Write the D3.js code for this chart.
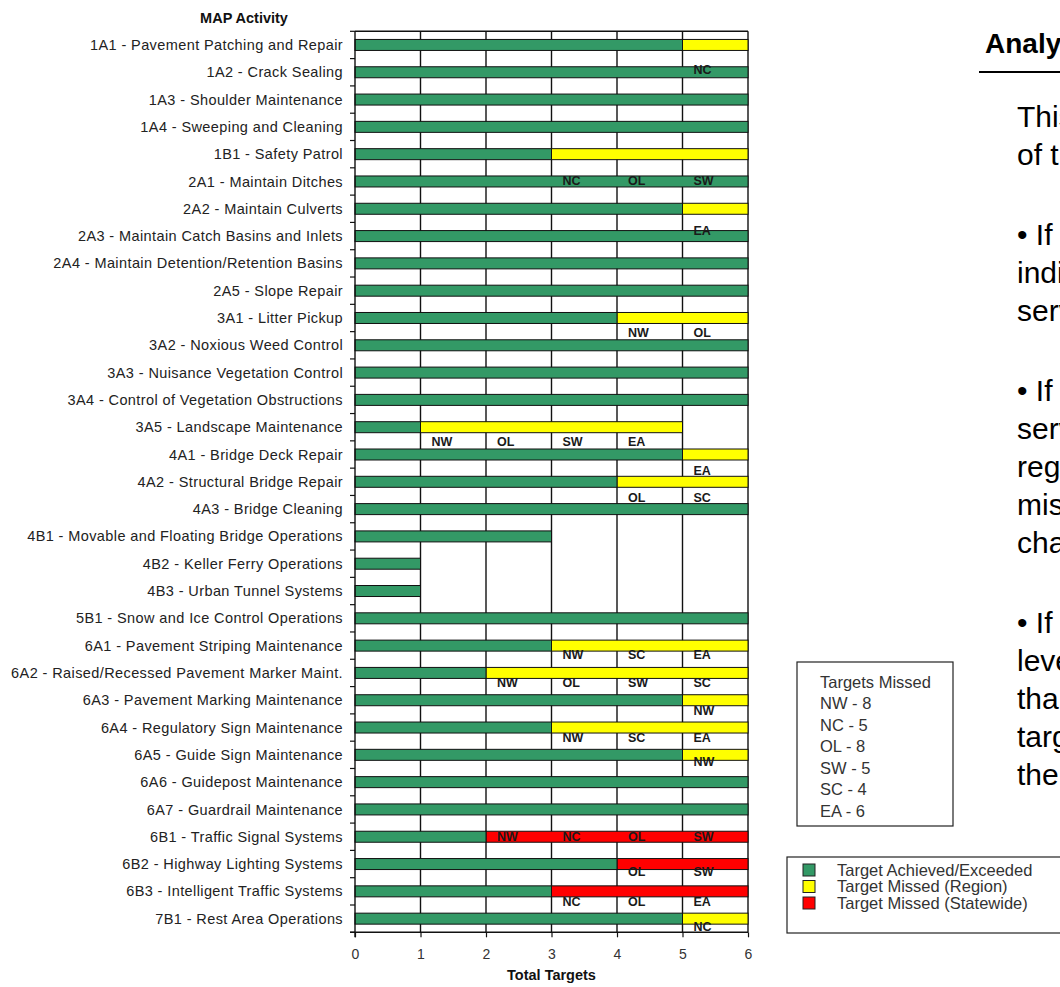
<!DOCTYPE html>
<html>
<head>
<meta charset="utf-8">
<script src="https://cdn.jsdelivr.net/npm/d3@7/dist/d3.min.js"></script>
<style>
  html, body { margin: 0; padding: 0; background: #fff; overflow: hidden; }
  svg { display: block; font-family: "Liberation Sans", Arial, sans-serif; }
</style>
</head>
<body>
<svg id="chart" width="1060" height="987"></svg>
<script>
// MAP activities, top to bottom
const codes = ['1A1', '1A2', '1A3', '1A4', '1B1', '2A1', '2A2', '2A3', '2A4', '2A5',
  '3A1', '3A2', '3A3', '3A4', '3A5', '4A1', '4A2', '4A3', '4B1', '4B2', '4B3',
  '5B1', '6A1', '6A2', '6A3', '6A4', '6A5', '6A6', '6A7', '6B1', '6B2', '6B3', '7B1'];

const activities = ['Pavement Patching and Repair', 'Crack Sealing', 'Shoulder Maintenance',
  'Sweeping and Cleaning', 'Safety Patrol', 'Maintain Ditches', 'Maintain Culverts',
  'Maintain Catch Basins and Inlets', 'Maintain Detention/Retention Basins', 'Slope Repair',
  'Litter Pickup', 'Noxious Weed Control', 'Nuisance Vegetation Control',
  'Control of Vegetation Obstructions', 'Landscape Maintenance', 'Bridge Deck Repair',
  'Structural Bridge Repair', 'Bridge Cleaning', 'Movable and Floating Bridge Operations',
  'Keller Ferry Operations', 'Urban Tunnel Systems', 'Snow and Ice Control Operations',
  'Pavement Striping Maintenance', 'Raised/Recessed Pavement Marker Maint.',
  'Pavement Marking Maintenance', 'Regulatory Sign Maintenance', 'Guide Sign Maintenance',
  'Guidepost Maintenance', 'Guardrail Maintenance', 'Traffic Signal Systems',
  'Highway Lighting Systems', 'Intelligent Traffic Systems', 'Rest Area Operations'];

// total targets per activity and how many were achieved
const totals   = [6, 6, 6, 6, 6, 6, 6, 6, 6, 6, 6, 6, 6, 6, 5, 6, 6, 6, 3, 1, 1, 6, 6, 6, 6, 6, 6, 6, 6, 6, 6, 6, 6];
const achieved = [5, 6, 6, 6, 3, 6, 5, 6, 6, 6, 4, 6, 6, 6, 1, 5, 4, 6, 3, 1, 1, 6, 3, 2, 5, 3, 5, 6, 6, 2, 4, 3, 5];

// regions that missed the target
const missedBy = [['NC'], [], [], [], ['NC', 'OL', 'SW'], [], ['EA'], [], [], [],
  ['NW', 'OL'], [], [], [], ['NW', 'OL', 'SW', 'EA'], ['EA'], ['OL', 'SC'], [], [], [], [],
  [], ['NW', 'SC', 'EA'], ['NW', 'OL', 'SW', 'SC'], ['NW'], ['NW', 'SC', 'EA'], ['NW'], [], [],
  ['NW', 'NC', 'OL', 'SW'], ['OL', 'SW'], ['NC', 'OL', 'EA'], ['NC']];

// activities where the miss is statewide
const statewide = ['6B1', '6B2', '6B3'];

const xTicks = [0, 1, 2, 3, 4, 5, 6];

const regions = ['NW', 'NC', 'OL', 'SW', 'SC', 'EA'];
const regionMissed = [8, 5, 8, 5, 4, 6];

const legendLabels = ['Target Achieved/Exceeded', 'Target Missed (Region)', 'Target Missed (Statewide)'];

const analysisTitle = 'Analysis';
const analysisParas = [
  ['This chart shows the results', 'of the maintenance targets.'],
  ['\u2022  If a bar is entirely green, it', 'indicates that all regions met the', 'service level target.'],
  ['\u2022  If a bar is partly yellow, the', 'service level target was missed', 'regionally; the regions that', 'missed it are listed on the', 'chart.'],
  ['\u2022  If a bar is partly red, the', 'level of service statewide is lower', 'than the target and the missed', 'target is listed by region on', 'the chart.']
];

// ---- layout ----
const colors = { ok: '#339966', region: '#ffff00', state: '#ff0000' };
const plot = { left: 355, right: 748, top: 31.3, bottom: 932.3 };
const barH = 11;
// how far each row's region codes sit below its bar (as pasted in the source)
const labelDrop = { '1A1': 25, '1B1': 26, '2A2': 22, '3A1': 15, '3A5': 14, '4A1': 16, '4A2': 16,
  '6A1': 9, '6A2': 10, '6A3': 10, '6A4': 10, '6A5': 7, '6B1': 0, '6B2': 8, '6B3': 10, '7B1': 8 };

const rows = codes.map((c, i) => ({
  code: c,
  label: c + ' - ' + activities[i],
  total: totals[i],
  ok: achieved[i],
  missed: missedBy[i],
  type: statewide.includes(c) ? 'state' : 'region'
}));

const svg = d3.select('#chart');

const x = d3.scaleLinear().domain([0, 6]).range([plot.left, plot.right]);
const y = d3.scaleBand().domain(codes).range([plot.top, plot.bottom]).padding(0);
const mid = c => y(c) + y.bandwidth() / 2;

// grid
const grid = svg.append('g');
grid.selectAll('line.v')
  .data(xTicks.slice(1))
  .join('line')
  .attr('x1', d => x(d)).attr('x2', d => x(d))
  .attr('y1', plot.top).attr('y2', plot.bottom)
  .attr('stroke', '#111').attr('stroke-width', 1.4);
grid.append('line')
  .attr('x1', plot.left).attr('x2', plot.right)
  .attr('y1', plot.top).attr('y2', plot.top)
  .attr('stroke', '#111').attr('stroke-width', 1.4);

// bars
const bars = svg.append('g');
bars.selectAll('rect.miss')
  .data(rows.filter(r => r.total > r.ok))
  .join('rect')
  .attr('x', d => x(d.ok))
  .attr('width', d => x(d.total) - x(d.ok))
  .attr('y', d => mid(d.code) - barH / 2)
  .attr('height', barH)
  .attr('fill', d => colors[d.type])
  .attr('stroke', '#111').attr('stroke-width', 1);
bars.selectAll('rect.ok')
  .data(rows)
  .join('rect')
  .attr('x', x(0))
  .attr('width', d => x(d.ok) - x(0))
  .attr('y', d => mid(d.code) - barH / 2)
  .attr('height', barH)
  .attr('fill', colors.ok)
  .attr('stroke', '#111').attr('stroke-width', 1);

// region codes next to the missed segments
const codeLabels = rows.flatMap(r => r.missed.map((m, k) => ({ code: r.code, text: m, at: r.ok + k })));
svg.append('g').selectAll('text')
  .data(codeLabels)
  .join('text')
  .attr('x', d => x(d.at) + 11)
  .attr('y', d => mid(d.code) + (labelDrop[d.code] ?? 12))
  .attr('dy', '0.35em')
  .attr('font-size', 12.5)
  .attr('font-weight', 'bold')
  .attr('fill', '#1a1a1a')
  .text(d => d.text);

// y axis
const yAxis = svg.append('g');
yAxis.append('line')
  .attr('x1', plot.left).attr('x2', plot.left)
  .attr('y1', plot.top).attr('y2', plot.bottom + 5)
  .attr('stroke', '#111').attr('stroke-width', 1.4);
yAxis.selectAll('line.tick')
  .data(codes.concat(['end']))
  .join('line')
  .attr('x1', plot.left - 5).attr('x2', plot.left)
  .attr('y1', (d, i) => plot.top + i * y.bandwidth())
  .attr('y2', (d, i) => plot.top + i * y.bandwidth())
  .attr('stroke', '#111').attr('stroke-width', 1.2);
yAxis.selectAll('text')
  .data(rows)
  .join('text')
  .attr('x', 343)
  .attr('y', d => mid(d.code))
  .attr('dy', '0.35em')
  .attr('text-anchor', 'end')
  .attr('font-size', 14.5)
  .attr('letter-spacing', 0.4)
  .attr('fill', '#222')
  .text(d => d.label);

svg.append('text')
  .attr('x', 244).attr('y', 18).attr('dy', '0.35em')
  .attr('text-anchor', 'middle')
  .attr('font-size', 14.5).attr('font-weight', 'bold').attr('fill', '#111')
  .text('MAP Activity');

// x axis
const xAxis = svg.append('g')
  .attr('transform', `translate(0,${plot.bottom})`)
  .call(d3.axisBottom(x).tickValues(xTicks).tickFormat(d3.format('d'))
    .tickSize(5).tickSizeOuter(0).tickPadding(12));
xAxis.select('.domain').attr('stroke', '#111').attr('stroke-width', 1.4)
  .attr('d', `M${plot.left - 5},0H${plot.right}`);
xAxis.selectAll('.tick line').attr('stroke', '#111').attr('stroke-width', 1.2);
xAxis.selectAll('.tick text')
  .attr('font-family', '"Liberation Sans", Arial, sans-serif')
  .attr('font-size', 14).attr('fill', '#333');

svg.append('text')
  .attr('x', (plot.left + plot.right) / 2).attr('y', 975).attr('dy', '0.35em')
  .attr('text-anchor', 'middle')
  .attr('font-size', 14.5).attr('font-weight', 'bold').attr('fill', '#111')
  .text('Total Targets');

// targets missed box
const tm = svg.append('g');
tm.append('rect')
  .attr('x', 797).attr('y', 662).attr('width', 156).attr('height', 164)
  .attr('fill', '#fff').attr('stroke', '#222').attr('stroke-width', 1.2);
tm.selectAll('text')
  .data(['Targets Missed'].concat(regions.map((r, i) => r + ' - ' + regionMissed[i])))
  .join('text')
  .attr('x', 820)
  .attr('y', (d, i) => 682 + i * 21.5)
  .attr('dy', '0.35em')
  .attr('font-size', 16.5).attr('fill', '#333')
  .text(d => d);

// colour legend
const lg = svg.append('g');
lg.append('rect')
  .attr('x', 787).attr('y', 857).attr('width', 290).attr('height', 76)
  .attr('fill', '#fff').attr('stroke', '#222').attr('stroke-width', 1.2);
const legendColors = [colors.ok, colors.region, colors.state];
const li = lg.selectAll('g.item')
  .data(legendLabels)
  .join('g')
  .attr('transform', (d, i) => `translate(0,${870 + i * 16.5})`);
li.append('rect')
  .attr('x', 803).attr('y', -6).attr('width', 12).attr('height', 12)
  .attr('fill', (d, i) => legendColors[i])
  .attr('stroke', '#222').attr('stroke-width', 1);
li.append('text')
  .attr('x', 837).attr('dy', '0.35em')
  .attr('font-size', 16.5).attr('fill', '#333')
  .text(d => d);

// analysis text column
const an = svg.append('g');
an.append('text')
  .attr('x', 985).attr('y', 43).attr('dy', '0.35em')
  .attr('font-size', 28).attr('font-weight', 'bold').attr('fill', '#000')
  .text(analysisTitle);
an.append('line')
  .attr('x1', 979).attr('x2', 1060).attr('y1', 72).attr('y2', 72)
  .attr('stroke', '#000').attr('stroke-width', 2);
const lineGap = 38, paraGap = 80;
let yy = 116;
const lines = [];
analysisParas.forEach((p, pi) => {
  if (pi > 0) yy += paraGap - lineGap;
  p.forEach(t => { lines.push({ t, y: yy }); yy += lineGap; });
});
an.selectAll('text.body')
  .data(lines)
  .join('text')
  .attr('x', 1017).attr('y', d => d.y).attr('dy', '0.35em')
  .attr('font-size', 30).attr('fill', '#000')
  .text(d => d.t);
</script>
</body>
</html>
